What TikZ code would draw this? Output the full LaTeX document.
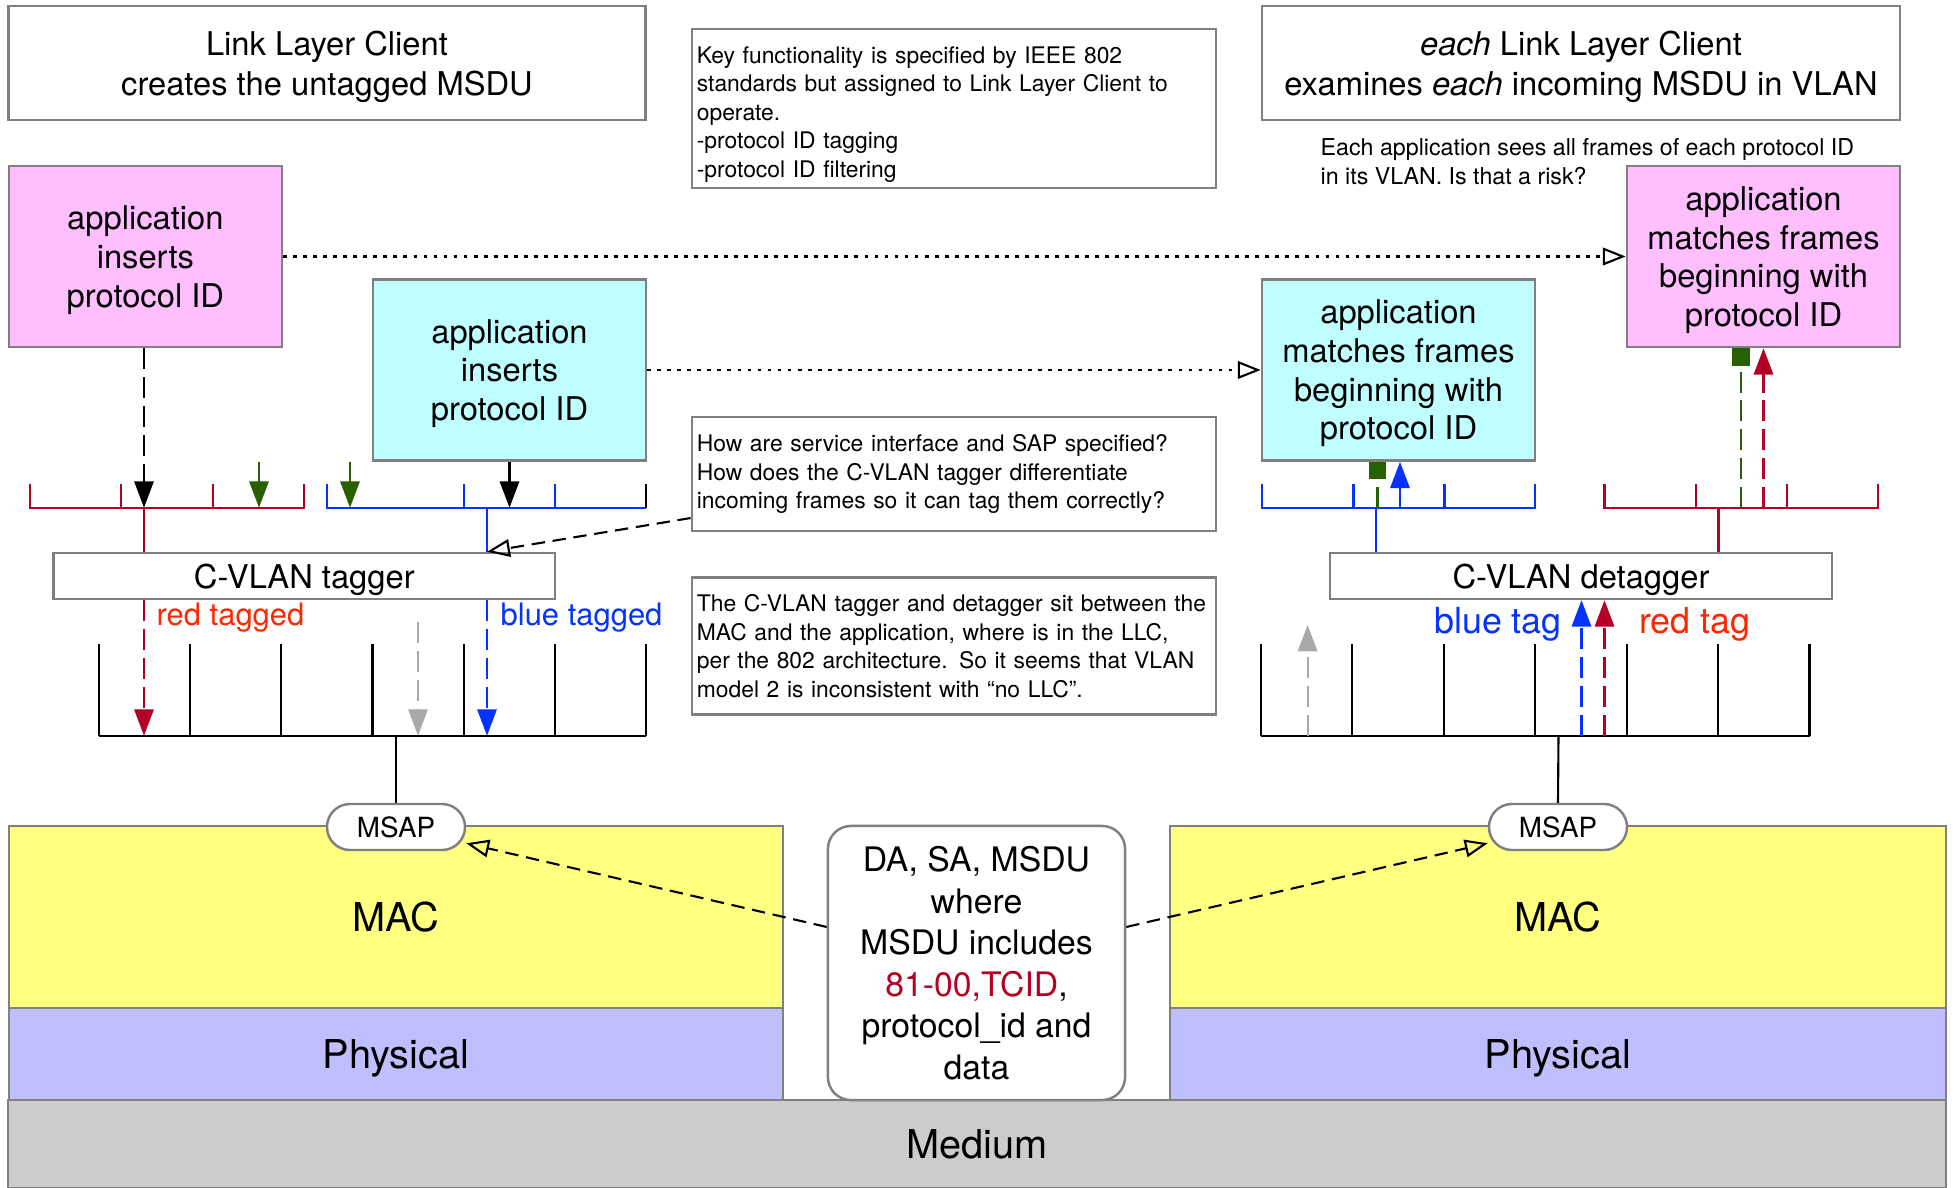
\documentclass[tikz,border=0pt]{standalone}
\usepackage{fontspec}
\setmainfont{TeX Gyre Heros}
\usetikzlibrary{arrows.meta}
\usetikzlibrary{shapes.geometric, arrows, positioning}
\definecolor{pinkapp}{RGB}{255,191,255}
\definecolor{cyanapp}{RGB}{191,255,255}
\definecolor{macyellow}{RGB}{255,255,128}
\definecolor{phylilac}{RGB}{191,191,255}
\definecolor{medgray}{RGB}{204,204,204}
\definecolor{edgegray}{RGB}{128,128,128}
\definecolor{vlanred}{RGB}{181,0,38}
\definecolor{vlanblue}{RGB}{4,51,255}
\definecolor{taggreen}{RGB}{38,96,0}
\definecolor{labelred}{RGB}{255,38,0}
\definecolor{untagged}{RGB}{169,169,169}

\begin{document}
\begin{tikzpicture}[x=0.01cm, y=-0.01cm,
    box/.style={draw=edgegray, line width=0.7pt, align=center, inner sep=0pt, text depth=0pt, font=\fontsize{9.3}{11}\selectfont},
    appbox/.style={box, minimum width=2.73cm, minimum height=1.81cm},
    notebox/.style={draw=edgegray, line width=0.7pt, align=left, text width=5.14cm, inner xsep=0.05cm, inner ysep=0pt, font=\fontsize{6.5}{8.1}\selectfont},
    layer/.style={draw=edgegray, line width=0.7pt, inner sep=0pt, text depth=0pt, font=\fontsize{11.3}{13.5}\selectfont},
    msap/.style={draw=edgegray, line width=0.7pt, fill=white, rounded corners=0.23cm, minimum width=1.38cm, minimum height=0.46cm, inner sep=0pt, font=\fontsize{7.9}{9}\selectfont},
    comb/.style={line width=0.6pt},
    fwd/.style={line width=0.6pt, -{Triangle[length=7.5pt,width=5.5pt]}},
    hollow/.style={line width=0.6pt, -{Triangle[open,length=6.5pt,width=5pt]}},
    sqtip/.style={line width=0.6pt, -{Square[length=5pt,width=5pt]}},
    dsh/.style={dash pattern=on 6pt off 2.2pt},
    ndsh/.style={dash pattern=on 3.8pt off 2.2pt},
    dotline/.style={dash pattern=on 1.1pt off 1.75pt},
    tagtext/.style={inner sep=0pt, font=\fontsize{8.8}{10}\selectfont},
    bigtag/.style={inner sep=0pt, font=\fontsize{10.2}{12}\selectfont}]
    \useasboundingbox (0,0) rectangle (1956,1188);

    % layers
    \node[layer, fill=macyellow, minimum width=7.74cm, minimum height=1.82cm] (macL) at (396,917) {MAC};
    \node[layer, fill=phylilac, minimum width=7.74cm, minimum height=0.92cm, below=-0.7pt of macL] (phyL) {Physical};
    \node[layer, fill=macyellow, minimum width=7.76cm, minimum height=1.82cm] (macR) at (1558,917) {MAC};
    \node[layer, fill=phylilac, minimum width=7.76cm, minimum height=0.92cm, below=-0.7pt of macR] (phyR) {Physical};
    \node[layer, fill=medgray, minimum width=19.37cm, minimum height=0.88cm] (medium) at (977,1144) {Medium};
    \node[box, fill=white, rounded corners=0.23cm, minimum width=2.97cm, minimum height=2.74cm, font=\fontsize{9.6}{11.8}\selectfont] (dabox) at (976.5,963)
        {DA, SA, MSDU\\where\\MSDU includes\\{\color{vlanred}81-00,TCID},\\protocol\_id and\\data};
    \node[msap] (msapL) at (396,827) {MSAP};
    \node[msap] (msapR) at (1558,827) {MSAP};

    % clients and applications
    \node[box, minimum width=6.37cm, minimum height=1.14cm, font=\fontsize{9.3}{11.4}\selectfont] (llcL) at (327,63) {Link Layer Client\\creates the untagged MSDU};
    \node[box, minimum width=6.38cm, minimum height=1.14cm, font=\fontsize{9.3}{11.4}\selectfont] (llcR) at (1581,63) {\textit{each} Link Layer Client\\examines \textit{each} incoming MSDU in VLAN};
    \node[notebox, minimum height=1.59cm] (noteK) at (954,108.5)
        {\rule{0pt}{8pt}Key functionality is specified by IEEE 802\\standards but assigned to Link Layer Client to\\operate.\\-protocol ID tagging\\-protocol ID filtering};
    \node[anchor=west, inner sep=0pt, align=left, font=\fontsize{6.6}{8.1}\selectfont] (risk) at (1320,161.5)
        {Each application sees all frames of each protocol ID\\in its VLAN. Is that a risk?};
    \node[appbox, fill=pinkapp] (appL) at (145.4,256.5) {application\\inserts\\protocol ID};
    \node[appbox, fill=cyanapp] (appLb) at (509.5,370) {application\\inserts\\protocol ID};
    \node[appbox, fill=cyanapp] (appRb) at (1398.5,370) {application\\matches frames\\beginning with\\protocol ID};
    \node[appbox, fill=pinkapp] (appR) at (1763.5,256.5) {application\\matches frames\\beginning with\\protocol ID};

    \node[box, minimum width=5.01cm, minimum height=0.46cm] (tagger) at (304.3,576) {C-VLAN tagger};
    \node[box, minimum width=5.02cm, minimum height=0.46cm] (detagger) at (1581,576) {C-VLAN detagger};
    \node[notebox, minimum height=1.14cm] (noteQ) at (954,474)
        {How are service interface and SAP specified?\\How does the C-VLAN tagger differentiate\\incoming frames so it can tag them correctly?};
    \node[notebox, minimum height=1.37cm, below=0.44cm of noteQ] (noteA)
        {The C-VLAN tagger and detagger sit between the\\MAC and the application, where is in the LLC,\\per the 802 architecture. So it seems that VLAN\\model 2 is inconsistent with “no LLC”.};

    % combs, left
    \draw[comb, vlanred] (30,484) -- (30,507.7) -- (304,507.7) -- (304,484);
    \foreach \x in {121.3,212.7} \draw[comb, vlanred] (\x,484) -- (\x,507.7);
    \draw[comb, vlanblue] (327,484) -- (327,507.7) -- (646,507.7);
    \draw[comb] (646,507.7) -- (646,484);
    \foreach \x in {464,555} \draw[comb, vlanblue] (\x,484) -- (\x,507.7);
    \draw[comb] (99,735.7) -- (646,735.7);
    \foreach \x in {99,190.2,281.3,372.5,463.7,554.8,646} \draw[comb] (\x,644) -- (\x,735.7);

    % combs, right
    \draw[comb, vlanblue] (1262,484) -- (1262,508) -- (1535,508) -- (1535,484);
    \foreach \x in {1353.5,1444.5} \draw[comb, vlanblue] (\x,484) -- (\x,508);
    \draw[comb, vlanred] (1604.5,484) -- (1604.5,508) -- (1878,508) -- (1878,484);
    \foreach \x in {1696,1787} \draw[comb, vlanred] (\x,484) -- (\x,508);
    \draw[comb] (1261,736) -- (1809.5,736);
    \foreach \x in {1261,1352.4,1443.8,1535.3,1626.7,1718.1,1809.5} \draw[comb] (\x,644) -- (\x,736);

    % taps
    \coordinate (rL) at (144,507.7);
    \coordinate (bL) at (487,507.7);
    \coordinate (g1) at (259,462);
    \coordinate (g2) at (350,462);
    \coordinate (kL) at (396,735.7);
    \coordinate (uL) at (418,622);
    \coordinate (bR) at (1376,508);
    \coordinate (gR1) at (1377.5,508);
    \coordinate (bR2) at (1400,508);
    \coordinate (rR) at (1718.5,508);
    \coordinate (gR2) at (1741,508);
    \coordinate (rR2) at (1763.5,508);
    \coordinate (kR) at (1558.5,736);
    \coordinate (uR) at (1307.6,736);
    \coordinate (uRtop) at (1307.6,625);
    \coordinate (bR3) at (1581.5,736);
    \coordinate (rR3) at (1604.5,736);

    % sending side
    \draw[fwd, dsh] (appL.south -| rL) -- (rL);
    \draw[fwd] (appLb.south) -- (appLb.south |- bL);
    \draw[fwd, taggreen] (g1) -- (g1 |- rL);
    \draw[fwd, taggreen] (g2) -- (g2 |- rL);
    \draw[comb, vlanred] (rL) -- (rL |- tagger.north);
    \draw[comb, vlanblue] (bL) -- (bL |- tagger.north);
    \draw[fwd, dsh, vlanred] (rL |- tagger.south) -- (rL |- kL);
    \draw[fwd, dsh, vlanblue] (bL |- tagger.south) -- (bL |- kL);
    \draw[fwd, dsh, untagged] (uL) -- (uL |- kL);
    \draw[comb] (kL) -- (msapL.north);
    \node[tagtext, anchor=west, text=labelred] (lblRedT) at (156,618) {red tagged};
    \node[tagtext, anchor=west, text=vlanblue] (lblBlueT) at (500,618) {blue tagged};

    % receiving side
    \draw[comb] (kR) -- (msapR.north);
    \draw[fwd, dsh, untagged] (uR) -- (uRtop);
    \draw[fwd, dsh, vlanblue] (bR3) -- (bR3 |- detagger.south);
    \draw[fwd, dsh, vlanred] (rR3) -- (rR3 |- detagger.south);
    \draw[comb, vlanblue] (bR) -- (bR |- detagger.north);
    \draw[comb, vlanred] (rR) -- (rR |- detagger.north);
    \draw[sqtip, dsh, taggreen] (gR1) -- (gR1 |- appRb.south);
    \draw[fwd, vlanblue] (bR2) -- (bR2 |- appRb.south);
    \draw[sqtip, dsh, taggreen] (gR2) -- (gR2 |- appR.south);
    \draw[fwd, dsh, vlanred] (rR2) -- (rR2 |- appR.south);
    \node[bigtag, text=vlanblue] (lblBlue) at (1498,624) {blue tag};
    \node[bigtag, text=labelred] (lblRed) at (1695,624) {red tag};

    % peer links and notes
    \draw[hollow, dotline] (appL) -- (appR);
    \draw[hollow, dotline] (appLb) -- (appRb);
    \draw[hollow, ndsh] ([yshift=-0.44cm]noteQ.west) -- (tagger.north -| bL);
    \draw[hollow, ndsh] ([yshift=0.36cm]dabox.west) -- (msapL);
    \draw[hollow, ndsh] ([yshift=0.36cm]dabox.east) -- (msapR);
\end{tikzpicture}
\end{document}
